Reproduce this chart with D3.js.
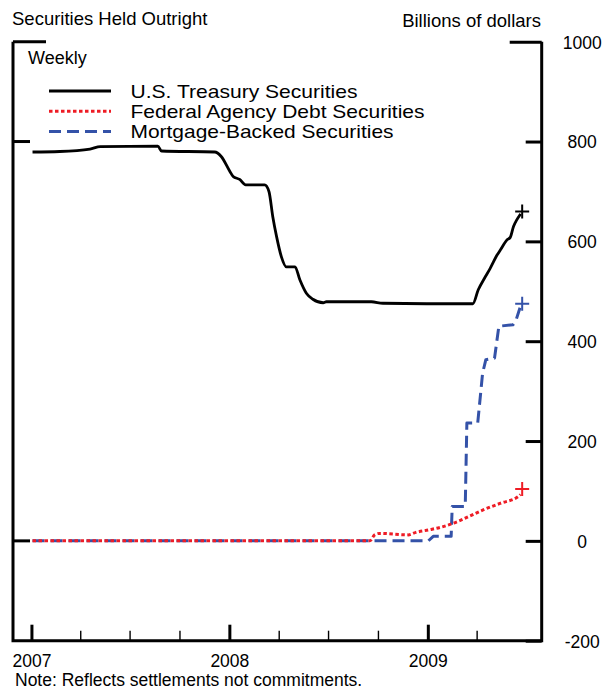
<!DOCTYPE html>
<html>
<head>
<meta charset="utf-8">
<script src="https://cdn.jsdelivr.net/npm/d3@7"></script>
<style>
  body { margin: 0; background: #fff; }
  text { font-family: Arial, 'Liberation Sans', sans-serif; fill: #000; }
</style>
</head>
<body>
<div id="chart"></div>
<script>
'use strict';

// series values (billions of dollars)
var treasury = [
  ['2007-01-03', 779], ['2007-02-22', 780], ['2007-04-19', 785], ['2007-05-08', 790],
  ['2007-08-22', 791], ['2007-08-29', 781], ['2007-12-05', 779], ['2007-12-17', 770],
  ['2008-01-02', 740], ['2008-01-08', 730], ['2008-01-20', 724], ['2008-01-31', 713],
  ['2008-03-06', 713], ['2008-03-14', 700], ['2008-03-21', 650], ['2008-03-28', 610],
  ['2008-04-06', 569], ['2008-04-15', 549], ['2008-05-01', 549], ['2008-05-10', 523],
  ['2008-05-22', 496], ['2008-06-03', 484], ['2008-06-22', 477], ['2008-06-28', 479],
  ['2008-09-19', 479], ['2008-10-10', 476], ['2009-01-20', 475], ['2009-03-25', 475],
  ['2009-04-04', 503], ['2009-04-17', 529], ['2009-04-26', 546], ['2009-05-09', 573],
  ['2009-05-15', 583], ['2009-05-27', 603], ['2009-06-02', 608], ['2009-06-08', 630],
  ['2009-06-14', 643], ['2009-06-21', 655]
];

var agency = [
  ['2007-01-03', 0], ['2008-09-16', 0], ['2008-09-25', 12], ['2008-10-04', 15],
  ['2008-11-26', 12], ['2008-12-10', 17], ['2009-01-03', 22], ['2009-01-24', 27],
  ['2009-02-11', 33], ['2009-03-02', 41], ['2009-03-20', 50], ['2009-04-13', 62],
  ['2009-05-14', 75], ['2009-06-17', 89], ['2009-06-21', 93]
];

var mbs = [
  ['2007-01-03', 0], ['2009-01-02', 0], ['2009-01-11', 9], ['2009-02-13', 9],
  ['2009-02-15', 69], ['2009-03-11', 69], ['2009-03-14', 236], ['2009-04-03', 236],
  ['2009-04-12', 336], ['2009-04-18', 363], ['2009-05-04', 366], ['2009-05-12', 430],
  ['2009-06-07', 433], ['2009-06-12', 440], ['2009-06-20', 467]
];

// latest values, marked with a cross
var latestDate = '2009-06-24';
var latestValues = [660, 104, 475];

var seriesNames = ['U.S. Treasury Securities', 'Federal Agency Debt Securities', 'Mortgage-Backed Securities'];
var yTicks = [-200, 0, 200, 400, 600, 800, 1000];
var yearTicks = ['2007', '2008', '2009'];
var quarterTicks = ['2007-04-01', '2007-07-01', '2007-10-01', '2008-04-01', '2008-07-01', '2008-10-01', '2009-04-01'];
var xDomain = ['2006-11-28', '2009-07-30'];


var width = 613, height = 692;
var area = { left: 13, right: 541.7, top: 41.7, bottom: 640.7 };
var font = "Arial, 'Liberation Sans', sans-serif";

var parse = d3.utcParse('%Y-%m-%d');

var svg = d3.select('#chart')
  .append('svg')
    .attr('width', width)
    .attr('height', height)
    .attr('viewBox', '0 0 ' + width + ' ' + height);

var x = d3.scaleUtc()
  .domain(xDomain.map(parse))
  .range([area.left, area.right]);

var y = d3.scaleLinear()
  .domain([-200, 1000])
  .range([area.bottom, area.top]);

var styles = [
  { color: '#000000', dash: null,      curve: d3.curveMonotoneX, width: 2.8 },
  { color: '#ee1c25', dash: '3.5,2.5', curve: d3.curveMonotoneX, width: 3 },
  { color: '#3452a8', dash: '12,6',    curve: d3.curveLinear,    width: 3 }
];

// ---- titles
svg.append('text')
  .attr('x', 12).attr('y', 25)
  .style('font-size', '18.5px')
  .text('Securities Held Outright');

svg.append('text')
  .attr('x', 541).attr('y', 26.5)
  .attr('text-anchor', 'end')
  .style('font-size', '18.5px')
  .text('Billions of dollars');

svg.append('text')
  .attr('x', 28).attr('y', 63.5)
  .style('font-size', '18px')
  .text('Weekly');

svg.append('text')
  .attr('x', 15).attr('y', 686)
  .style('font-size', '17.5px')
  .text('Note: Reflects settlements not commitments.');

// ---- frame
var frame = svg.append('g').attr('id', 'frame')
  .attr('stroke', '#000')
  .attr('stroke-width', 3)
  .attr('fill', 'none');

frame.append('path')
  .attr('d', 'M' + area.left + ',' + area.top + 'V' + area.bottom + 'H' + area.right + 'V' + area.top);

// right axis (ticks pointing in, labels outside)
var yAxis = d3.axisLeft(y)
  .tickValues(yTicks)
  .tickSize(16)
  .tickFormat(function(d) { return String(d); });

var yAxisG = svg.append('g')
  .attr('id', 'yAxis')
  .attr('transform', 'translate(' + area.right + ',0)')
  .call(yAxis);

yAxisG.select('.domain').remove();
yAxisG.selectAll('line')
  .attr('stroke', '#000')
  .attr('stroke-width', 3)
  .attr('x2', function(d) { return d === 1000 ? -32 : -16; });
yAxisG.selectAll('text')
  .attr('x', 40.5)
  .attr('dy', '0.36em')
  .attr('text-anchor', 'middle')
  .style('font-family', font)
  .style('font-size', '17.5px');

// left side ticks
svg.append('g')
  .attr('id', 'yLeftTicks')
.selectAll('line')
.data([0, 800, 1000])
.enter().append('line')
  .attr('x1', area.left)
  .attr('x2', function(d) { return d === 1000 ? area.left + 33 : area.left + 17; })
  .attr('y1', function(d) { return y(d); })
  .attr('y2', function(d) { return y(d); })
  .attr('stroke', '#000')
  .attr('stroke-width', 3);

// bottom axis: years (major) and quarters (minor)
var xAxisMinor = d3.axisBottom(x)
  .tickValues(quarterTicks.map(parse))
  .tickSize(-10)
  .tickFormat('');

var xAxisMajor = d3.axisBottom(x)
  .tickValues(yearTicks.map(function(t) { return parse(t + '-01-01'); }))
  .tickSize(-16)
  .tickPadding(10)
  .tickFormat(d3.utcFormat('%Y'));

var xMinorG = svg.append('g')
  .attr('id', 'xAxisMinor')
  .attr('transform', 'translate(0,' + area.bottom + ')')
  .call(xAxisMinor);
xMinorG.select('.domain').remove();
xMinorG.selectAll('line').attr('stroke', '#000').attr('stroke-width', 1.4);

var xMajorG = svg.append('g')
  .attr('id', 'xAxisMajor')
  .attr('transform', 'translate(0,' + area.bottom + ')')
  .call(xAxisMajor);
xMajorG.select('.domain').remove();
xMajorG.selectAll('line').attr('stroke', '#000').attr('stroke-width', 3);
xMajorG.selectAll('text')
  .attr('y', 26.5)
  .attr('dy', 0)
  .style('font-family', font)
  .style('font-size', '17.5px');

// ---- series lines
var lineGen = d3.line()
  .x(function(d) { return x(parse(d[0])); })
  .y(function(d) { return y(d[1]); });

var allSeries = [treasury, agency, mbs];
var drawOrder = [0, 2, 1];

drawOrder.forEach(function(i) {
  svg.append('path')
    .attr('class', 'series')
    .attr('d', lineGen.curve(styles[i].curve)(allSeries[i]))
    .attr('fill', 'none')
    .attr('stroke', styles[i].color)
    .attr('stroke-width', styles[i].width)
    .attr('stroke-dasharray', styles[i].dash)
    .attr('stroke-linejoin', 'round');
});

// latest value crosses
svg.append('g').attr('id', 'latest')
.selectAll('path')
.data(latestValues)
.enter().append('path')
  .attr('d', function(d) {
    var cx = x(parse(latestDate)), cy = y(d), r = 7;
    return 'M' + (cx - r) + ',' + cy + 'H' + (cx + r) + 'M' + cx + ',' + (cy - r) + 'V' + (cy + r);
  })
  .attr('stroke', function(d, i) { return styles[i].color; })
  .attr('stroke-width', 2);

// ---- legend
var legendRows = [91, 111.2, 131.4];
var legendWidths = [227, 294, 263];
var legend = svg.append('g').attr('id', 'legend')
.selectAll('g')
.data(seriesNames)
.enter().append('g')
  .attr('transform', function(d, i) { return 'translate(0,' + legendRows[i] + ')'; });

legend.append('line')
  .attr('x1', 49).attr('x2', 111)
  .attr('stroke', function(d, i) { return styles[i].color; })
  .attr('stroke-width', 3)
  .attr('stroke-dasharray', function(d, i) { return styles[i].dash; });

legend.append('text')
  .attr('x', 130.5)
  .attr('y', 6.8)
  .attr('textLength', function(d, i) { return legendWidths[i]; })
  .attr('lengthAdjust', 'spacingAndGlyphs')
  .style('font-size', '18.5px')
  .text(function(d) { return d; });
</script>
</body>
</html>
